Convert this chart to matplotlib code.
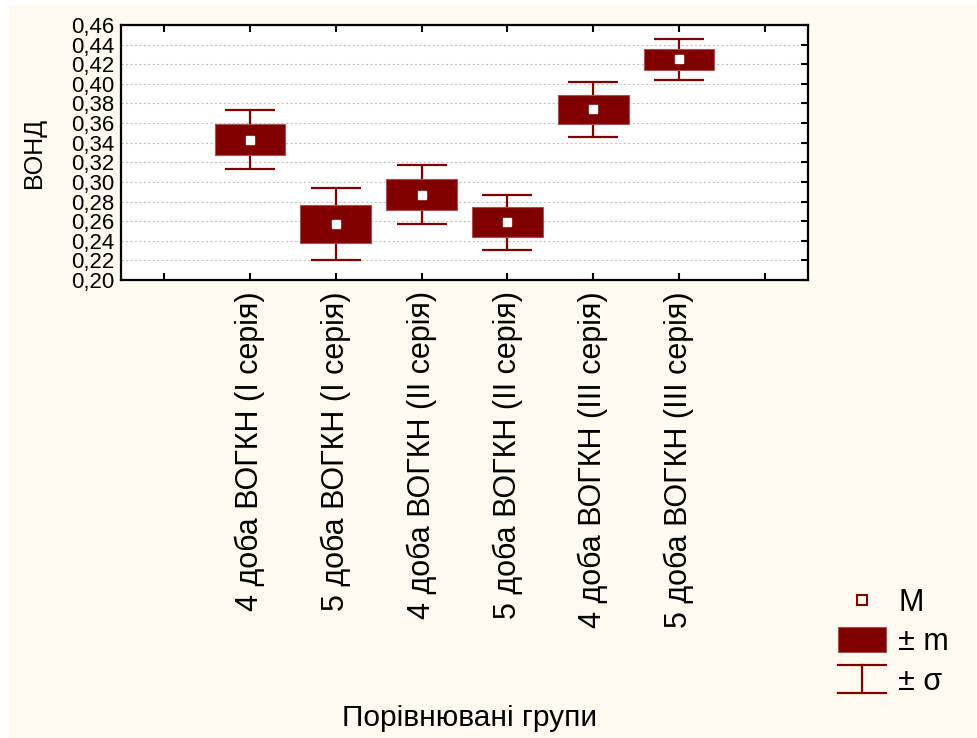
import matplotlib
matplotlib.use("Agg")

import matplotlib.pyplot as plt
import numpy as np
from matplotlib.legend_handler import HandlerBase
from matplotlib.lines import Line2D
from matplotlib.patches import Patch, Rectangle
from matplotlib.ticker import FixedLocator, FuncFormatter

groups = [
    "4 доба ВОГКН (I серія)",
    "5 доба ВОГКН (I серія)",
    "4 доба ВОГКН (II серія)",
    "5 доба ВОГКН (II серія)",
    "4 доба ВОГКН (III серія)",
    "5 доба ВОГКН (III серія)",
]
mean_vals = [0.343, 0.257, 0.287, 0.259, 0.374, 0.425]
sem_vals = [0.016, 0.019, 0.016, 0.015, 0.015, 0.011]
sd_vals = [0.030, 0.037, 0.030, 0.028, 0.028, 0.021]

DARK_RED = "#800000"
CREAM = "#fffaf0"

plt.rcParams["font.family"] = ["Liberation Sans", "DejaVu Sans"]


class WhiskerHandler(HandlerBase):
    # I-beam key: two caps joined by a vertical stroke
    def create_artists(self, legend, orig_handle, xdescent, ydescent,
                       width, height, fontsize, trans):
        x0, x1 = -xdescent, -xdescent + width
        y0, y1 = -ydescent - 0.05 * height, -ydescent + 1.05 * height
        xm = (x0 + x1) / 2
        kw = dict(color=DARK_RED, lw=1.6, transform=trans)
        return [
            Line2D([x0, x1], [y0, y0], **kw),
            Line2D([x0, x1], [y1, y1], **kw),
            Line2D([xm, xm], [y0, y1], **kw),
        ]


fig = plt.figure(figsize=(9.78, 7.38), dpi=100, facecolor="white")
fig.patches.append(Rectangle((9 / 978, 0), 1, 1 - 5 / 738, transform=fig.transFigure,
                             facecolor=CREAM, edgecolor="none", zorder=-10))

ax = fig.add_axes([121 / 978, 1 - 280 / 738, 687 / 978, 255 / 738])
ax.set_facecolor("white")

x = np.arange(1, len(groups) + 1)
mean_arr = np.array(mean_vals)
sem_arr = np.array(sem_vals)
sd_arr = np.array(sd_vals)

ax.errorbar(x, mean_arr, yerr=sd_arr, fmt="none", ecolor=DARK_RED,
            elinewidth=1.6, capsize=18, capthick=1.6, zorder=2)
ax.bar(x, 2 * sem_arr, bottom=mean_arr - sem_arr, width=0.82, color=DARK_RED,
       edgecolor="#a65050", linewidth=0.8, zorder=3)
ax.plot(x, mean_arr, linestyle="none", marker="s", markersize=5.5,
        markerfacecolor="white", markeredgecolor="white", zorder=4)

ax.set_xlim(-0.5, 7.5)
ax.set_ylim(0.20, 0.46)
ax.xaxis.set_major_locator(FixedLocator(np.arange(0, 8)))
ax.set_xticklabels([""] + groups + [""], rotation=90, fontsize=22)
ax.set_yticks(np.arange(0.20, 0.4601, 0.02))
ax.yaxis.set_major_formatter(FuncFormatter(lambda v, _: f"{v:.2f}".replace(".", ",")))
ax.tick_params(axis="y", labelsize=16, length=0, pad=5)
ax.tick_params(axis="y", which="both", right=True, direction="in")
ax.tick_params(axis="x", top=True, direction="in", length=5, width=1.5, pad=8)
ax.tick_params(axis="y", right=True, length=5, width=1.5)
ax.yaxis.set_tick_params(which="major", left=False)

ax.grid(axis="y", color="#c4c4c4", linestyle=(0, (2, 2)), linewidth=0.8)
ax.set_axisbelow(True)
for spine in ax.spines.values():
    spine.set_linewidth(1.6)

ax.set_ylabel("ВОНД", fontsize=18, labelpad=18)
fig.text(470 / 978, 1 - 718 / 738, "Порівнювані групи", fontsize=21.5,
         ha="center", va="center")

handles = [
    Line2D([], [], linestyle="none", marker="s", markersize=6.5,
           markerfacecolor=CREAM, markeredgecolor=DARK_RED, markeredgewidth=1.5),
    Patch(facecolor=DARK_RED, edgecolor="#a65050", linewidth=0.8),
    object(),
]
fig.legend(handles, ["M", "± m", "± σ"], loc="lower left",
           bbox_to_anchor=(811 / 978, 1 - 724 / 738), frameon=False,
           fontsize=22, handlelength=1.55, handleheight=0.88,
           handletextpad=0.4, labelspacing=0.3,
           handler_map={object: WhiskerHandler()})

fig.savefig("out.png", dpi=100, facecolor=fig.get_facecolor())
